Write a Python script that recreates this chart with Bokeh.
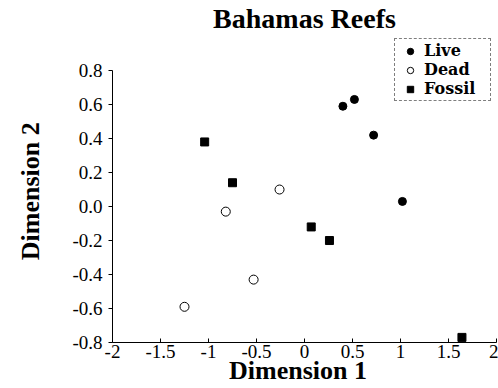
from bokeh.plotting import figure
from bokeh.models import FixedTicker, Range1d, Legend, LegendItem
from bokeh.embed import file_html
from bokeh.resources import INLINE

# ---- data ----
title_text = "Bahamas Reefs"
x_label = "Dimension   1"
y_label = "Dimension  2"

x_ticks = [-2, -1.5, -1, -0.5, 0, 0.5, 1, 1.5, 2]
x_tick_labels = ["-2", "-1.5", "-1", "-0.5", "0", "0.5", "1", "1.5", "2"]
y_ticks = [0.8, 0.6, 0.4, 0.2, 0.0, -0.2, -0.4, -0.6, -0.8]
y_tick_labels = ["0.8", "0.6", "0.4", "0.2", "0.0", "-0.2", "-0.4", "-0.6", "-0.8"]

series_names = ["Live", "Dead", "Fossil"]
live_x = [0.40, 0.52, 0.72, 1.02]
live_y = [0.59, 0.63, 0.42, 0.03]
dead_x = [-0.26, -0.82, -0.53, -1.25]
dead_y = [0.10, -0.03, -0.43, -0.59]
fossil_x = [-1.04, -0.75, 0.07, 0.26, 1.64]
fossil_y = [0.38, 0.14, -0.12, -0.20, -0.77]

SERIF = "Liberation Serif"
LEGEND_FONT = "DejaVu Serif"

p = figure(width=498, height=388, output_backend="svg", toolbar_location=None,
           x_range=Range1d(-2, 2), y_range=Range1d(-0.8, 1.018),
           min_border_left=112, min_border_right=2, min_border_top=0,
           min_border_bottom=46, background_fill_color="white",
           border_fill_color="white")
p.outline_line_color = None
p.xgrid.visible = False
p.ygrid.visible = False

p.title.text = title_text
p.title.align = "center"
p.title.text_font = SERIF
p.title.text_font_size = "28px"
p.title.text_font_style = "bold"
p.title.text_color = "black"
p.title.standoff = 0

r_live = p.scatter(live_x, live_y, marker="circle", size=8,
                   fill_color="black", line_color="black")
r_dead = p.scatter(dead_x, dead_y, marker="circle", size=9,
                   fill_color="white", line_color="black", line_width=1)
r_fossil = p.scatter(fossil_x, fossil_y, marker="square", size=8,
                     fill_color="black", line_color="black")

for ax in (p.xaxis[0], p.yaxis[0]):
    ax.axis_line_color = "black"
    ax.axis_line_width = 1
    ax.major_tick_line_color = "black"
    ax.minor_tick_line_color = None
    ax.axis_label_text_font = SERIF
    ax.axis_label_text_font_style = "bold"
    ax.axis_label_text_font_size = "26px"
    ax.axis_label_text_color = "black"
    ax.major_label_text_font = SERIF
    ax.major_label_text_font_size = "19px"
    ax.major_label_text_color = "black"

xa = p.xaxis[0]
xa.ticker = FixedTicker(ticks=x_ticks, minor_ticks=[])
xa.major_label_overrides = dict(zip(x_ticks, x_tick_labels))
xa.axis_label = x_label
xa.major_tick_in = 4
xa.major_tick_out = 0
xa.major_label_standoff = 2
xa.axis_label_standoff = -5

ya = p.yaxis[0]
ya.ticker = FixedTicker(ticks=y_ticks, minor_ticks=[])
ya.major_label_overrides = dict(zip(y_ticks, y_tick_labels))
ya.axis_label = y_label
ya.bounds = (-0.8, 0.8)
ya.major_tick_in = 0
ya.major_tick_out = 4
ya.major_label_standoff = 6
ya.axis_label_standoff = 24

legend = Legend(items=[LegendItem(label=series_names[0], renderers=[r_live]),
                       LegendItem(label=series_names[1], renderers=[r_dead]),
                       LegendItem(label=series_names[2], renderers=[r_fossil])],
                location="top_right", margin=5, padding=2, spacing=0,
                glyph_width=26, glyph_height=16, label_height=16,
                label_standoff=1, label_width=64,
                label_text_font=LEGEND_FONT, label_text_font_style="bold",
                label_text_font_size="16px", label_text_color="black",
                border_line_color="black", border_line_width=1,
                border_line_dash="3 2", background_fill_color="white",
                background_fill_alpha=1.0)
p.add_layout(legend, "center")

open("out.html", "w").write(file_html(p, INLINE))
